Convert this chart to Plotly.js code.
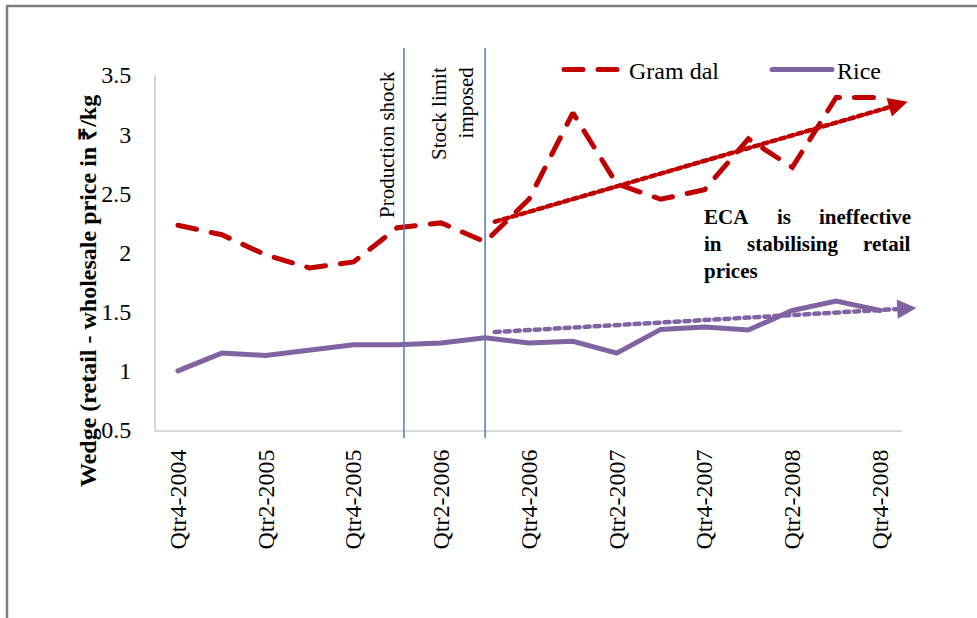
<!DOCTYPE html>
<html><head><meta charset="utf-8">
<script src="https://cdn.plot.ly/plotly-3.0.1.min.js"></script>
<style>html,body{margin:0;padding:0;background:#fff;} #chart{width:977px;height:618px;} .js-line{stroke-linecap:round;}</style>
</head><body><div id="chart"></div>
<script>
// ---- data ----
const categories = ['Qtr4-2004','Qtr1-2005','Qtr2-2005','Qtr3-2005','Qtr4-2005','Qtr1-2006','Qtr2-2006','Qtr3-2006','Qtr4-2006','Qtr1-2007','Qtr2-2007','Qtr3-2007','Qtr4-2007','Qtr1-2008','Qtr2-2008','Qtr3-2008','Qtr4-2008'];
const gramDal = [2.23, 2.15, 1.98, 1.87, 1.92, 2.21, 2.25, 2.09, 2.45, 3.18, 2.58, 2.45, 2.53, 2.96, 2.72, 3.31, 3.31];
const rice    = [1.00, 1.15, 1.13, 1.18, 1.22, 1.22, 1.235, 1.28, 1.235, 1.25, 1.15, 1.35, 1.37, 1.345, 1.51, 1.59, 1.51];
const tickLabels = categories.filter((c, i) => i % 2 === 0);
// trend arrows: start and tip (category index, value)
const gramTrendX = [7.22, 16.63];
const gramTrendY = [2.26, 3.273];
const riceTrendX = [7.22, 16.83];
const riceTrendY = [1.328, 1.531];
// event markers (category index)
const eventX = [5.15, 7.0];
const eventLabels = ['Production shock', 'Stock limit<br>imposed'];
const yTitle = 'Wedge (retail - wholesale price in ₹/kg';
const ecaLines = [['ECA', 'is', 'ineffective'], ['in', 'stabilising', 'retail'], ['prices']];

// ---- layout helpers ----
const W = 977, H = 618, L = 156, R = 75, T = 75, B = 188;
const pw = W - L - R, ph = H - T - B;
const px = x => (x - L) / pw;
const py = y => (H - B - y) / ph;
const xRange = [-0.5, categories.length - 0.5], yRange = [0.5, 3.5];
const xToPaper = v => (v - xRange[0]) / (xRange[1] - xRange[0]);
const yToPaper = v => (v - yRange[0]) / (yRange[1] - yRange[0]);
const FONT = 'Liberation Serif';
const RED = '#C00000', PURPLE = '#8064A2', BLUE = '#4A7EBB';

const traces = [
  {x: categories, y: gramDal, name: 'Gram dal', type: 'scatter', mode: 'lines',
   line: {color: RED, width: 5, dash: '19px,15px'}, hoverinfo: 'x+y'},
  {x: categories, y: rice, name: 'Rice', type: 'scatter', mode: 'lines',
   line: {color: PURPLE, width: 5}, hoverinfo: 'x+y'},
  {x: gramTrendX, y: gramTrendY, xaxis: 'x2', yaxis: 'y', type: 'scatter', mode: 'lines',
   line: {color: RED, width: 4.5, dash: '5px,4px'}, showlegend: false, hoverinfo: 'skip'},
  {x: riceTrendX, y: riceTrendY, xaxis: 'x2', yaxis: 'y', type: 'scatter', mode: 'lines',
   line: {color: PURPLE, width: 4.5, dash: '5px,5px'}, showlegend: false, hoverinfo: 'skip'}
];

const shapes = [
  // outer frame (left and top edges)
  {type: 'line', xref: 'paper', yref: 'paper', x0: px(7), x1: px(7), y0: py(6), y1: py(625), line: {color: '#7f7f7f', width: 2.5}},
  {type: 'line', xref: 'paper', yref: 'paper', x0: px(6), x1: px(985), y0: py(6), y1: py(6), line: {color: '#7f7f7f', width: 2.5}}
];
eventX.forEach(v => shapes.push({type: 'line', xref: 'x2', yref: 'paper', x0: v, x1: v, y0: py(438), y1: py(48),
  line: {color: BLUE, width: 1.5}, layer: 'above'}));

const annotations = [
  {xref: 'paper', yref: 'paper', x: px(88), y: py(291), text: '<b>' + yTitle + '</b>', textangle: -90,
   showarrow: false, font: {family: FONT, size: 24, color: '#000'}, xanchor: 'center', yanchor: 'middle'},
  {xref: 'paper', yref: 'paper', x: px(387), y: py(145), text: eventLabels[0], textangle: -90,
   showarrow: false, font: {family: FONT, size: 21, color: '#000'}, xanchor: 'center', yanchor: 'middle'},
  {xref: 'paper', yref: 'paper', x: px(453), y: py(114), text: eventLabels[1], textangle: -90, align: 'right',
   showarrow: false, font: {family: FONT, size: 21, color: '#000'}, xanchor: 'center', yanchor: 'middle'}
];
// arrowheads at the tips of the trend lines (positions derived from the trend arrays)
[[gramTrendX, gramTrendY, RED], [riceTrendX, riceTrendY, PURPLE]].forEach(([tx, ty, c]) => {
  const n = tx.length - 1;
  const dx = (xToPaper(tx[n]) - xToPaper(tx[0])) * pw;
  const dy = -(yToPaper(ty[n]) - yToPaper(ty[0])) * ph;
  const len = Math.hypot(dx, dy), tail = 8;
  annotations.push({xref: 'paper', yref: 'paper', x: xToPaper(tx[n]), y: yToPaper(ty[n]),
    ax: -tail * dx / len, ay: -tail * dy / len, text: '', showarrow: true,
    arrowhead: 2, arrowsize: 1.1, arrowwidth: 3.5, arrowcolor: c, standoff: 0, startstandoff: 0});
});
// justified bold text block
const ecaLeft = 702, ecaRight = 913, ecaMid = [784, 793], ecaY = [217, 244, 271];
ecaLines.forEach((words, li) => {
  words.forEach((w, wi) => {
    let x, anchor;
    if (wi === 0) { x = ecaLeft; anchor = 'left'; }
    else if (wi === words.length - 1) { x = ecaRight; anchor = 'right'; }
    else { x = ecaMid[li]; anchor = 'center'; }
    annotations.push({xref: 'paper', yref: 'paper', x: px(x), y: py(ecaY[li]), text: '<b>' + w + '</b>',
      showarrow: false, xanchor: anchor, yanchor: 'middle', font: {family: FONT, size: 21, color: '#000'}});
  });
});

const layout = {
  width: W, height: H,
  margin: {l: L, r: R, t: T, b: B, pad: 0, autoexpand: false},
  paper_bgcolor: '#fff', plot_bgcolor: '#fff',
  font: {family: FONT, size: 24, color: '#000'},
  showlegend: true,
  legend: {orientation: 'h', x: px(559), y: py(70), xanchor: 'left', yanchor: 'middle',
    font: {family: FONT, size: 24, color: '#000'}, bgcolor: 'rgba(0,0,0,0)', itemwidth: 60,
    entrywidth: 133, entrywidthmode: 'pixels', traceorder: 'normal'},
  xaxis: {type: 'category', range: xRange, tickmode: 'array', tickvals: tickLabels, ticktext: tickLabels,
    tickangle: -90, showline: true, linecolor: '#d9d9d9', linewidth: 2, showgrid: false, zeroline: false,
    ticks: '', ticklabelstandoff: 8, tickfont: {family: FONT, size: 24, color: '#000'}, fixedrange: true},
  xaxis2: {type: 'linear', overlaying: 'x', range: xRange, visible: false, fixedrange: true},
  yaxis: {range: yRange, tick0: 0.5, dtick: 0.5, showline: true, linecolor: '#d9d9d9', linewidth: 2,
    showgrid: false, zeroline: false, ticks: '', ticklabelstandoff: 18,
    tickfont: {family: FONT, size: 24, color: '#000'}, fixedrange: true},
  shapes: shapes,
  annotations: annotations
};

Plotly.newPlot('chart', traces, layout, {displayModeBar: false, staticPlot: false});
</script>
</body></html>
